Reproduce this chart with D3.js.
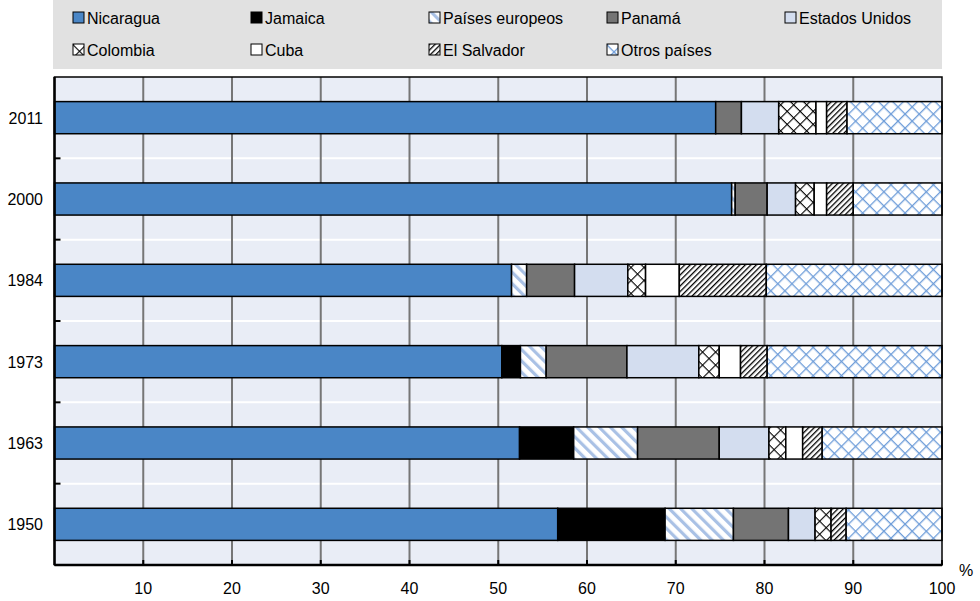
<!DOCTYPE html>
<html>
<head>
<meta charset="utf-8">
<script src="https://cdn.jsdelivr.net/npm/d3@7"></script>
<style>
  html, body { margin: 0; padding: 0; background: #ffffff; }
  svg { display: block; font-family: Arial, "Liberation Sans", sans-serif; }
</style>
</head>
<body>
<svg id="chart" width="980" height="601"></svg>
<script>
// ---- Data ----
const years = ["2011", "2000", "1984", "1973", "1963", "1950"];
const countries = ["Nicaragua", "Jamaica", "Países europeos", "Panamá", "Estados Unidos",
                   "Colombia", "Cuba", "El Salvador", "Otros países"];
const nicaragua      = [74.5, 76.3, 51.5, 50.4, 52.4, 56.7];
const jamaica        = [0.0, 0.0, 0.0, 2.1, 6.1, 12.1];
const paisesEuropeos = [0.0, 0.4, 1.7, 2.9, 7.2, 7.7];
const panama         = [2.9, 3.6, 5.4, 9.1, 9.2, 6.2];
const estadosUnidos  = [4.2, 3.2, 6.0, 8.1, 5.6, 3.0];
const colombia       = [4.2, 2.1, 2.0, 2.3, 1.9, 1.8];
const cuba           = [1.2, 1.4, 3.8, 2.4, 1.9, 0.0];
const elSalvador     = [2.3, 3.0, 9.8, 3.0, 2.2, 1.7];
const otrosPaises    = [10.7, 10.0, 19.8, 19.7, 13.5, 10.8];
const xTicks = [10, 20, 30, 40, 50, 60, 70, 80, 90, 100];

const seriesValues = [nicaragua, jamaica, paisesEuropeos, panama, estadosUnidos,
                      colombia, cuba, elSalvador, otrosPaises];

// table for stacking
const table = years.map((y, i) => {
  const row = { year: y };
  countries.forEach((c, k) => { row[c] = seriesValues[k][i]; });
  return row;
});

// ---- Styles ----
const fills = {
  "Nicaragua": "#4a86c6",
  "Jamaica": "#000000",
  "Países europeos": "url(#pat-pe)",
  "Panamá": "#747474",
  "Estados Unidos": "#d3ddef",
  "Colombia": "url(#pat-col)",
  "Cuba": "#ffffff",
  "El Salvador": "url(#pat-els)",
  "Otros países": "url(#pat-otros)"
};

const svg = d3.select("#chart");
const defs = svg.append("defs");

function stripePattern(id, size, angle, color, thick) {
  const p = defs.append("pattern").attr("id", id)
    .attr("patternUnits", "userSpaceOnUse")
    .attr("width", size).attr("height", size)
    .attr("patternTransform", `rotate(${angle})`);
  p.append("rect").attr("width", size).attr("height", size).attr("fill", "#fff");
  p.append("rect").attr("x", 0).attr("y", 0).attr("width", thick).attr("height", size).attr("fill", color);
}
function latticePattern(id, size, color, thick) {
  const p = defs.append("pattern").attr("id", id)
    .attr("patternUnits", "userSpaceOnUse")
    .attr("width", size).attr("height", size)
    .attr("patternTransform", "rotate(45)");
  p.append("rect").attr("width", size).attr("height", size).attr("fill", "#fff");
  p.append("rect").attr("x", 0).attr("y", 0).attr("width", thick).attr("height", size).attr("fill", color);
  p.append("rect").attr("x", 0).attr("y", 0).attr("width", size).attr("height", thick).attr("fill", color);
}
stripePattern("pat-pe", 8, -45, "#a9c1e5", 3.2);
stripePattern("pat-els", 3.9, 45, "#000000", 1.3);
latticePattern("pat-col", 9.2, "#000000", 1.1);
latticePattern("pat-otros", 10, "#6e9dd9", 1.3);

// ---- Scales ----
const x = d3.scaleLinear().domain([0, 100]).range([54.5, 942]);
const y = d3.scaleBand().domain(years).range([77, 565]).paddingInner(0.605).paddingOuter(0.3025);
const plotTop = 77, plotBottom = 565;

// ---- Legend ----
svg.append("rect").attr("x", 53).attr("y", 0).attr("width", 889).attr("height", 69).attr("fill", "#e1e1e1");
const legCols = [73, 251, 429, 607, 785];
const legRows = [12, 44];
const leg = svg.append("g").selectAll("g").data(countries).join("g")
  .attr("transform", (d, i) => `translate(${legCols[i % 5]},${legRows[Math.floor(i / 5)]})`);
leg.append("rect").attr("width", 11).attr("height", 11)
  .attr("fill", d => fills[d]).attr("stroke", "#000").attr("stroke-width", 1);
leg.append("text").attr("x", 14).attr("y", 11.5).attr("font-size", 16).attr("fill", "#000").text(d => d);

// ---- Plot background ----
const plot = svg.append("g");
plot.append("rect").attr("x", x(0)).attr("y", plotTop).attr("width", x(100) - x(0))
  .attr("height", plotBottom - plotTop).attr("fill", "#e9edf6");

// band separators (white)
const bounds = years.slice(1).map(yr => y(yr) - y.step() * y.paddingInner() / 2 - y.step() * 0 );
const sepYs = years.slice(0, -1).map(yr => y(yr) + y.bandwidth() + (y.step() - y.bandwidth()) / 2);
plot.selectAll("line.sep").data(sepYs).join("line").attr("class", "sep")
  .attr("x1", x(0)).attr("x2", x(100)).attr("y1", d => d).attr("y2", d => d)
  .attr("stroke", "#ffffff").attr("stroke-width", 2);

// vertical gridlines
plot.selectAll("line.grid").data(xTicks.filter(t => t < 100)).join("line").attr("class", "grid")
  .attr("x1", d => x(d)).attr("x2", d => x(d)).attr("y1", plotTop).attr("y2", plotBottom)
  .attr("stroke", "#767676").attr("stroke-width", 2);

// ---- Bars ----
const stack = d3.stack().keys(countries);
const stacked = stack(table);
const barG = svg.append("g");
stacked.forEach(layer => {
  const key = layer.key;
  barG.append("g").selectAll("rect").data(layer.filter(d => d[1] - d[0] > 0)).join("rect")
    .attr("x", d => x(d[0]))
    .attr("y", d => y(d.data.year))
    .attr("width", d => x(d[1]) - x(d[0]))
    .attr("height", y.bandwidth())
    .attr("fill", fills[key])
    .attr("stroke", "#000").attr("stroke-width", 1.5);
});

// ---- Frame & axes ----
svg.append("rect").attr("x", x(0)).attr("y", plotTop).attr("width", x(100) - x(0))
  .attr("height", plotBottom - plotTop).attr("fill", "none").attr("stroke", "#000").attr("stroke-width", 1.5);
svg.append("line").attr("x1", x(0)).attr("x2", x(100)).attr("y1", plotBottom).attr("y2", plotBottom)
  .attr("stroke", "#000").attr("stroke-width", 2.5);
svg.append("line").attr("x1", x(0)).attr("x2", x(0)).attr("y1", plotTop).attr("y2", plotBottom)
  .attr("stroke", "#000").attr("stroke-width", 2.5);

// left ticks at band boundaries
svg.selectAll("line.ltick").data(sepYs).join("line").attr("class", "ltick")
  .attr("x1", x(0)).attr("x2", x(0) + 6).attr("y1", d => d).attr("y2", d => d)
  .attr("stroke", "#000").attr("stroke-width", 2);
// bottom ticks
svg.selectAll("line.btick").data(xTicks).join("line").attr("class", "btick")
  .attr("x1", d => x(d)).attr("x2", d => x(d)).attr("y1", plotBottom).attr("y2", plotBottom - 5)
  .attr("stroke", "#000").attr("stroke-width", 2);

// x labels
svg.selectAll("text.xl").data(xTicks).join("text").attr("class", "xl")
  .attr("x", d => x(d)).attr("y", 594).attr("text-anchor", "middle")
  .attr("font-size", 16).attr("fill", "#000").text(d => d);
svg.append("text").attr("x", 966).attr("y", 576).attr("text-anchor", "middle")
  .attr("font-size", 16).attr("fill", "#000").text("%");

// y labels
svg.selectAll("text.yl").data(years).join("text").attr("class", "yl")
  .attr("x", 43).attr("y", d => y(d) + y.bandwidth() / 2 + 6).attr("text-anchor", "end")
  .attr("font-size", 16).attr("fill", "#000").text(d => d);
</script>
</body>
</html>
